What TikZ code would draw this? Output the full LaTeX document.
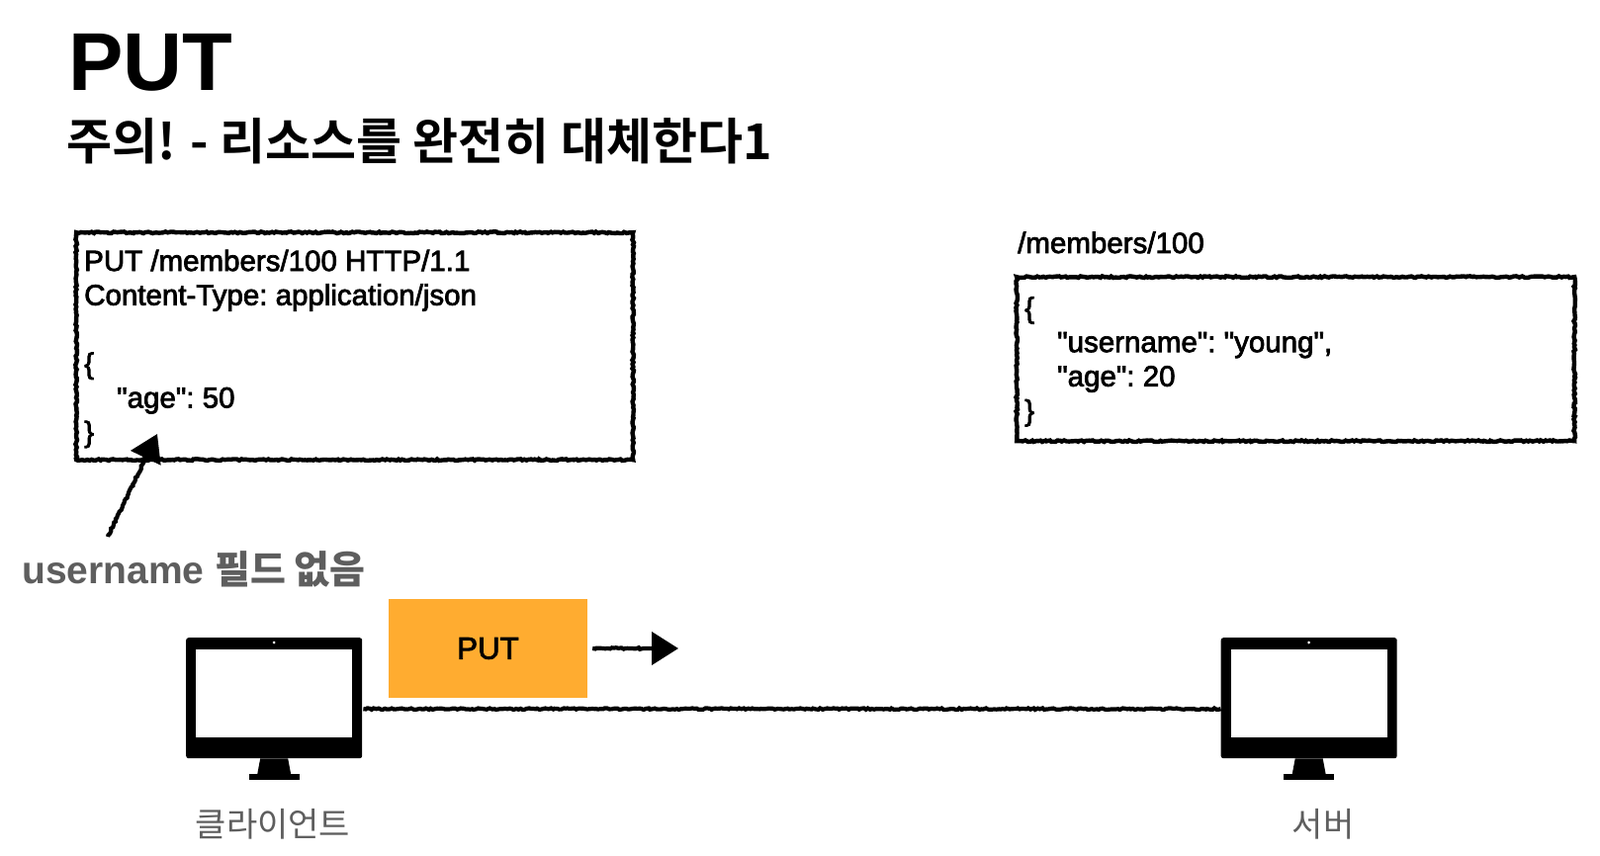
\documentclass[tikz,border=0pt]{standalone}
\usepackage{fontspec}
\usepackage{xcolor}
\usepackage{tikz}
\usetikzlibrary{
    arrows.meta,
    calc,
    decorations.pathmorphing
}
\setmainfont{Liberation Sans}
\newfontfamily\medfont[FakeBold=2.5]{Liberation Sans}
\newfontfamily\krfont{Noto Sans CJK KR}
\newfontfamily\krbold{Noto Sans CJK KR Bold}
\definecolor{putorange}{HTML}{FFAC30}
\definecolor{labelgray}{HTML}{5E5E5E}
\tikzstyle{sketchbox}=[
    rectangle,
    anchor=north west,
    draw=black,
    line width=4.4pt,
    decorate,
    decoration={random steps,segment length=2.2pt,amplitude=0.8pt}
]
\tikzstyle{sketchline}=[
    line width=4.2pt,
    draw=black,
    decorate,
    decoration={random steps,segment length=2.2pt,amplitude=0.8pt}
]
\tikzstyle{sketcharrow}=[sketchline,decoration={post=lineto,post length=34pt},
    -{Triangle[length=27pt,width=33pt]}]
\tikzstyle{bodytext}=[
    anchor=north west,
    inner sep=0pt,
    align=left,
    font=\frenchspacing\fontsize{29.5}{34.6}\medfont
]

\begin{document}
\begin{tikzpicture}[
    x=1pt,y=-1pt,
    bezel/.style={rectangle,fill=black,rounded corners=2.5pt,anchor=north west,
    minimum width=178pt,minimum height=122pt,inner sep=0pt},
    screen/.style={rectangle,fill=white,minimum width=158pt,minimum height=89pt,inner sep=0pt},
    caption/.style={inner sep=0pt,text=labelgray,font=\fontsize{34}{38}\krfont}
]
\useasboundingbox (0,0) rectangle (1618,866);
% title
\node[anchor=base west,inner sep=0pt,font=\fontsize{83}{90}\bfseries] (title) at (69,92) {PUT};
\node[anchor=base west,inner sep=0pt,font=\fontsize{50}{56}\krbold] (subtitle) at (67,162) {주의! - 리소스를 완전히 대체한다1};
% messages
\node[sketchbox,minimum width=563pt,minimum height=230pt] (request) at (75,233) {};
\node[bodytext] (requesttext) at (85,252.5) {PUT /members/100 HTTP/1.1\\Content-Type: application/json\\[34.6pt]\{\\\hspace*{33pt}"age": 50\\\}};
\node[anchor=base west,inner sep=0pt,font=\frenchspacing\fontsize{29.5}{34.6}\medfont] (path) at (1029,256) {/members/100};
\node[sketchbox,minimum width=564pt,minimum height=166pt] (resource) at (1026,278) {};
\node[bodytext] (resourcetext) at (1036,300) {\{\\\hspace*{33pt}"username": "young",\\\hspace*{33pt}"age": 20\\\}};
% missing field
\node[anchor=base west,inner sep=0pt,text=labelgray,font=\fontsize{39}{44}\bfseries] (missing) at (22,590) {username {\krbold 필드 없음}};
\coordinate (missingstart) at (109,543);
\coordinate (missingtip) at (159,439);
\draw[sketcharrow] (missingstart) -- (missingtip);
% computers
\foreach \name/\x in {client/188,server/1234.5}{
    \node[bezel] (\name) at (\x,645) {};
    \node[screen] (\name screen) at ($(\name.center)+(0,-4.5)$) {};
    \fill[white] ($(\name.north)+(0,5)$) circle (1.5pt);
    \fill ($(\name.south)+(-14,0)$) -- ($(\name.south)+(14,0)$) -- ($(\name.south)+(17,16)$) -- ($(\name.south)+(-17,16)$) -- cycle;
    \fill ($(\name.south)+(-25.5,16)$) rectangle ($(\name.south)+(25.5,22)$);
}
\node[caption] (clientlabel) at (276,834) {클라이언트};
\node[caption] (serverlabel) at (1338,834) {서버};
\draw[sketchline] ($(client.east)+(1,11)$) -- ($(server.west)+(0,11)$);
% request on the wire
\node[rectangle,fill=putorange,minimum width=201pt,minimum height=100pt,inner sep=0pt,
font=\fontsize{31.3}{36}\medfont] (message) at (493.5,656) {PUT};
\coordinate (messagetip) at (686,656);
\draw[sketcharrow] ($(message.east)+(5,0)$) -- (messagetip);
\end{tikzpicture}
\end{document}
